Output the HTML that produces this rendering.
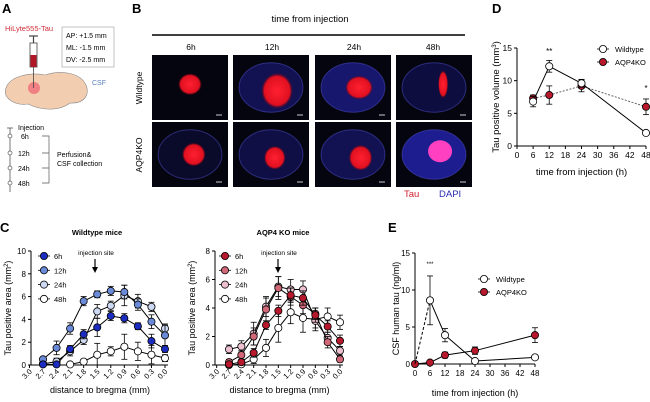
<!DOCTYPE html>
<html><head><meta charset="utf-8">
<style>
body{margin:0;background:#fff;}
svg{display:block;font-family:"Liberation Sans",Arial,sans-serif;}
</style></head>
<body>
<svg id="fig" width="650" height="402" viewBox="0 0 650 402">
<!-- Panel A -->
<g>
<text x="2" y="13" font-size="13" font-weight="bold">A</text>
<text x="5" y="31" font-size="7.5" fill="#d0303a">HiLyte555-Tau</text>
<rect x="62" y="27" width="52" height="40" fill="#fff" stroke="#aaa" stroke-width="0.7"/>
<text x="66" y="38" font-size="7">AP: +1.5 mm</text>
<text x="66" y="50" font-size="7">ML: -1.5 mm</text>
<text x="66" y="62" font-size="7">DV: -2.5 mm</text>
<path d="M6,88 C10,76 30,72 45,75 C60,70 80,72 86,85 C90,95 84,104 70,103 C58,112 40,110 28,104 C15,106 2,98 6,88Z" fill="#f2cdb0" stroke="#888" stroke-width="0.6"/>
<circle cx="34" cy="88" r="6" fill="#f06070" opacity="0.7"/>
<rect x="30" y="43" width="7" height="24" fill="#fff" stroke="#444" stroke-width="0.8"/>
<rect x="30.5" y="55" width="6" height="12" fill="#b01828"/>
<line x1="33.5" y1="36" x2="33.5" y2="43" stroke="#444" stroke-width="1.2"/>
<line x1="29" y1="36" x2="38" y2="36" stroke="#444" stroke-width="1.2"/>
<line x1="33.5" y1="67" x2="33.5" y2="88" stroke="#444" stroke-width="0.8"/>
<text x="92" y="85" font-size="7" fill="#5a7fc0">CSF</text>
<line x1="10" y1="128" x2="10" y2="192" stroke="#555" stroke-width="0.8"/>
<line x1="7" y1="128" x2="13" y2="128" stroke="#555" stroke-width="0.8"/>
<text x="18" y="130" font-size="7">Injection</text>
<g font-size="7">
<circle cx="10" cy="136" r="2" fill="#fff" stroke="#555" stroke-width="0.7"/><text x="21" y="139">6h</text>
<circle cx="10" cy="153" r="2" fill="#fff" stroke="#555" stroke-width="0.7"/><text x="18" y="156">12h</text>
<circle cx="10" cy="168" r="2" fill="#fff" stroke="#555" stroke-width="0.7"/><text x="18" y="171">24h</text>
<circle cx="10" cy="183" r="2" fill="#fff" stroke="#555" stroke-width="0.7"/><text x="18" y="186">48h</text>
</g>
<path d="M42,136 H49 V183 H42 M42,153 H49 M42,168 H49" fill="none" stroke="#555" stroke-width="0.7"/>
<text x="57" y="157" font-size="7">Perfusion&amp;</text>
<text x="57" y="166" font-size="7">CSF collection</text>
</g>
<!-- Panel B -->
<g>
<text x="132" y="13" font-size="13" font-weight="bold">B</text>
<text x="310" y="22" font-size="9.5" text-anchor="middle">time from injection</text>
<line x1="152" y1="35" x2="465" y2="35" stroke="#000" stroke-width="1.5"/>
<g font-size="8.5" text-anchor="middle">
<text x="191" y="50">6h</text>
<text x="272" y="50">12h</text>
<text x="354" y="50">24h</text>
<text x="433" y="50">48h</text>
</g>
<text transform="translate(142,88) rotate(-90)" font-size="8.5" text-anchor="middle">Wildtype</text>
<text transform="translate(142,155) rotate(-90)" font-size="8.5" text-anchor="middle">AQP4KO</text>
<g id="tiles"></g>
<text x="404" y="197" font-size="9.5" fill="#d02030">Tau</text>
<text x="439" y="197" font-size="9.5" fill="#2a2ab0">DAPI</text>
</g>
<g id="charts"></g>
<text x="0" y="232" font-size="13" font-weight="bold">C</text>
<text x="97" y="235" font-size="7.5" font-weight="bold" text-anchor="middle">Wildtype mice</text>
<text x="283" y="235" font-size="7.5" font-weight="bold" text-anchor="middle">AQP4 KO mice</text>
<text x="492" y="13" font-size="13" font-weight="bold">D</text>
<text x="388" y="232" font-size="13" font-weight="bold">E</text>
</svg>
<script>
const NS='http://www.w3.org/2000/svg';
function mk(parent,tag,attrs){const e=document.createElementNS(NS,tag);for(const k in attrs)e.setAttribute(k,attrs[k]);parent.appendChild(e);return e;}
// ---------- tiles ----------
const tileX=[152,233,315,396];
const tileY=[55,122];
const tau=[[[0.5,0.45,12,11],[0.58,0.55,16,18],[0.58,0.5,14,12],[0.62,0.45,5,14]],
           [[0.55,0.5,12,12],[0.55,0.55,11,12],[0.6,0.55,12,13],[0.58,0.45,12,11]]];
const dapi=[[0,0.5,0.7,0.35],[0.2,0.4,0.5,0.95]];
const tilesG=document.getElementById('tiles');
const defs=mk(document.getElementById('fig'),'defs',{});
const gr=mk(defs,'radialGradient',{id:'redg'});
mk(gr,'stop',{offset:'0','stop-color':'#ff2030'});mk(gr,'stop',{offset:'0.8','stop-color':'#e01020'});mk(gr,'stop',{offset:'1','stop-color':'#600010','stop-opacity':'0'});
for(let r=0;r<2;r++)for(let c=0;c<4;c++){
 const x=tileX[c],y=tileY[r],w=76,h=65;
 const t=mk(tilesG,'g',{});
 
 
 mk(t,'rect',{x:x,y:y,width:w,height:h,fill:'#050510'});
 const a=dapi[r][c];
 if(a>0) mk(t,'ellipse',{cx:x+w/2,cy:y+h/2,rx:w*0.42,ry:h*0.38,fill:'#2a2ad0','fill-opacity':a*0.7,stroke:'#5050d0','stroke-opacity':0.5});
 const s=tau[r][c];
 mk(t,'ellipse',{cx:x+w*s[0],cy:y+h*s[1],rx:s[2],ry:s[3],fill:(r==1&&c==3)?'#ff40c0':'url(#redg)'});
 mk(t,'line',{x1:x+w-12,y1:y+h-5,x2:x+w-6,y2:y+h-5,stroke:'#ccc','stroke-width':1});
}
// ---------- Panel C data ----------
const distLabels=['3.0','2.7','2.4','2.1','1.8','1.5','1.2','0.9','0.6','0.3','0.0'];
const seriesNames=['6h','12h','24h','48h'];
const wt6=[0.05,0.05,1.4,2.7,3.3,4.3,4.1,3.4,2.1,1.4];
const wt12=[0.5,1.5,3.2,5.6,6.2,6.5,6.4,5.3,3.8,2.6];
const wt24=[0.1,0.3,1.2,2.2,4.7,5.2,6.1,5.6,5.1,3.2];
const wt48=[null,null,0.05,0.3,0.9,1.2,1.6,1.2,0.9,0.6];
const wtErr=[[0.1,0.1,0.3,0.4,0.8,0.4,0.4,0.3,0.6,0.3],[0.2,0.6,0.5,0.4,0.3,0.4,0.6,0.5,0.6,0.9],[0.1,0.3,0.4,0.4,0.6,0.4,0.9,0.6,0.4,0.4],[0,0,0.1,0.2,1.0,0.4,1.1,0.8,0.8,0.3]];
const ko6=[0.05,0.2,0.85,2.8,3.8,4.9,4.7,3.5,2.7,1.7];
const ko12=[0.2,0.7,2.0,3.9,5.4,4.8,4.2,3.6,1.6,0.4];
const ko24=[1.1,1.3,2.2,4.1,5.5,5.3,5.3,3.1,1.9,1.0];
const ko48=[0.0,0.05,0.4,1.2,2.6,3.7,3.3,3.2,3.4,3.0];
const koErr=[[0.1,0.2,0.3,0.3,0.4,0.5,0.5,0.5,0.4,0.4],[0.2,0.3,0.6,0.8,0.8,0.6,0.6,0.4,0.4,0.2],[0.3,0.4,0.8,0.7,0.7,0.7,0.6,0.5,0.4,0.3],[0,0.1,0.3,0.6,1.0,0.8,1.0,0.8,0.6,0.5]];
// ---------- Panel D data ----------
const hoursD=[6,12,24,48];
const volWT=[6.8,12.2,9.6,2.0];
const volWTErr=[0.8,0.9,0.6,0.2];
const volKO=[7.3,7.8,9.2,6.0];
const volKOErr=[0.5,1.4,0.9,1.2];
// ---------- Panel E data ----------
const hoursE=[0,6,12,24,48];
const csfWT=[0,8.6,3.9,0.4,0.9];
const csfWTErr=[0,3.3,0.9,0.1,0.2];
const csfKO=[0,0.2,1.2,1.8,3.9];
const csfKOErr=[0,0.1,0.4,0.5,1.0];
const hourTicks=[0,6,12,18,24,30,36,42,48];
const chartsG=document.getElementById('charts');
function axisFrame(g,name,x0,y0,x1,y1,ymax,ystep,ylabel,ylx,xlabel,xly,fs){
 fs=fs||8;
 const ys=v=>y0-(v/ymax)*(y0-y1);
 const ax=mk(g,'g',{stroke:'#000','stroke-width':1});
 
 mk(ax,'line',{x1:x0,y1:y1,x2:x0,y2:y0});
 for(let v=0;v<=ymax+1e-9;v+=ystep){mk(ax,'line',{x1:x0-3,y1:ys(v),x2:x0,y2:ys(v)});
  const t=mk(g,'text',{x:x0-5,y:ys(v)+3,'font-size':fs,'text-anchor':'end'});t.textContent=v;
  }
 const yl=mk(g,'text',{transform:`translate(${ylx},${(y0+y1)/2}) rotate(-90)`,'font-size':fs+1,'text-anchor':'middle'});
 yl.innerHTML=ylabel;
 const xl=mk(g,'text',{x:(x0+x1)/2,y:xly,'font-size':fs+1,'text-anchor':'middle'});xl.textContent=xlabel;
 
 return ys;
}
function series(g,name,xs,ys,vals,errs,fill,dashFirst,lineStyle,lineColor){
 const sg=mk(g,'g',{});
 const pts=[];vals.forEach((v,i)=>{if(v!==null)pts.push([xs(i),ys(v),i,v]);});
 for(let k=1;k<pts.length;k++){const a=pts[k-1],b=pts[k];
  mk(sg,'line',{x1:a[0],y1:a[1],x2:b[0],y2:b[1],stroke:lineColor||'#000','stroke-width':1,'stroke-dasharray':(dashFirst&&k==1)?'3,2':(lineStyle||'none')});}
 pts.forEach(p=>{const e=errs[p[2]];if(e>0){const u=ys(p[3]+e),d=ys(Math.max(0,p[3]-e));
  mk(sg,'line',{x1:p[0],y1:u,x2:p[0],y2:d,stroke:'#000','stroke-width':0.8});
  mk(sg,'line',{x1:p[0]-3,y1:u,x2:p[0]+3,y2:u,stroke:'#000','stroke-width':0.8});
  mk(sg,'line',{x1:p[0]-3,y1:d,x2:p[0]+3,y2:d,stroke:'#000','stroke-width':0.8});}});
 pts.forEach(p=>{if(dashFirst&&p[2]==0)return;const c=mk(sg,'circle',{cx:p[0],cy:p[1],r:3.6,fill:fill,stroke:'#000','stroke-width':0.8});
  });
}
function legend(g,name,x,y,label,fill,gap){
 const lg=mk(g,'g',{});
 mk(lg,'line',{x1:x-6,y1:y,x2:x+6,y2:y,stroke:'#000','stroke-width':0.8});
 mk(lg,'circle',{cx:x,cy:y,r:3.6,fill:fill,stroke:'#000','stroke-width':0.8});
 const t=mk(lg,'text',{x:x+(gap||10),y:y+3,'font-size':7.5});t.textContent=label;
}
function panelC(name,x0,y0,y1,xFirst,xLast,ymax,data,errs,colors,legX,arrowX){
 const g=mk(chartsG,'g',{});
 const ys=axisFrame(g,name,x0,y0,xLast+4,y1,ymax,2,'Tau positive area (mm<tspan dy="-3" font-size="6">2</tspan><tspan dy="3">)</tspan>',x0-20,'distance to bregma (mm)',393);
 const sp=(xLast-xFirst)/9;
 const xs=i=>xFirst+i*sp;
 mk(g,'line',{x1:x0,y1:y0,x2:xLast+3,y2:y0,stroke:'#000','stroke-width':1});
 distLabels.forEach((l,j)=>{const x=xFirst+(j-1)*sp;mk(g,'line',{x1:x,y1:y0,x2:x,y2:y0+3,stroke:'#000','stroke-width':1});
  const t=mk(g,'text',{transform:`translate(${x+3},${y0+7}) rotate(-45)`,'font-size':7.5,'text-anchor':'end'});t.textContent=l;
  });
 for(let s=3;s>=0;s--)series(g,name+'-series-'+seriesNames[s],xs,ys,data[s],errs[s],colors[s]);
 seriesNames.forEach((n,s)=>legend(g,name+'-legend-'+n,legX,256+s*14.3,n,colors[s]));
 const it=mk(g,'text',{x:arrowX+1,y:255,'font-size':6.5,'text-anchor':'middle'});it.textContent='injection site';
 
 mk(g,'line',{x1:arrowX,y1:259,x2:arrowX,y2:268,stroke:'#000','stroke-width':1.2});
 mk(g,'path',{d:`M${arrowX-3},267 L${arrowX+3},267 L${arrowX},273Z`,fill:'#000'});
}
panelC('chart-wildtype-area',31,365,251,43,165,10,[wt6,wt12,wt24,wt48],wtErr,['#1c2cc0','#6a8ad8','#cdd8f2','#ffffff'],44,95);
panelC('chart-aqp4ko-area',215,365,251,229,340,8,[ko6,ko12,ko24,ko48],koErr,['#b8182c','#d06878','#ecc0d0','#ffffff'],225,278);
function timeChart(name,x0,x1,y0,y1,ylabel,ylx,xtitleY,hours,A,Ae,B,Be,dash,leg,stars,fs){
 const g=mk(chartsG,'g',{});
 const ys=axisFrame(g,name,x0,y0,x1,y1,15,5,ylabel,ylx,'time from injection (h)',xtitleY,fs);
 const xh=h=>x0+h/48*(x1-x0);
 mk(g,'line',{x1:x0,y1:y0,x2:x1,y2:y0,stroke:'#000','stroke-width':1});
 hourTicks.forEach(h=>{mk(g,'line',{x1:xh(h),y1:y0,x2:xh(h),y2:y0+3,stroke:'#000','stroke-width':1});
  const t=mk(g,'text',{x:xh(h),y:y0+12,'font-size':fs,'text-anchor':'middle'});t.textContent=h;
  });
 const xs=i=>xh(hours[i]);
 series(g,name+'-series-aqp4ko',xs,ys,B,Be,'#b8182c',false,dash?'none':'2,1.5',dash?'#000':'#666');
 series(g,name+'-series-wildtype',xs,ys,A,Ae,'#ffffff',dash,'none');
 legend(g,name+'-legend-wildtype',leg[0],leg[1],'Wildtype','#fff',12);
 legend(g,name+'-legend-aqp4ko',leg[0],leg[1]+13,'AQP4KO','#b8182c',12);
 stars.forEach(s=>{const t=mk(g,'text',{x:xh(s[0]),y:s[1],'font-size':s[3]||8,'text-anchor':'middle'});t.textContent=s[2];
  });
}
timeChart('chart-tau-volume',517,646,146,48,'Tau positive volume (mm<tspan dy="-3" font-size="6">3</tspan><tspan dy="3">)</tspan>',499,175,hoursD,volWT,volWTErr,volKO,volKOErr,false,[603,49],[[12,54,'**'],[48,91,'*']],8.5);
timeChart('chart-csf-tau',415,535,364,253,'CSF human tau (ng/ml)',399,396,hoursE,csfWT,csfWTErr,csfKO,csfKOErr,true,[484,279],[[6,266,'***',6]],8);
</script>
</body></html>
